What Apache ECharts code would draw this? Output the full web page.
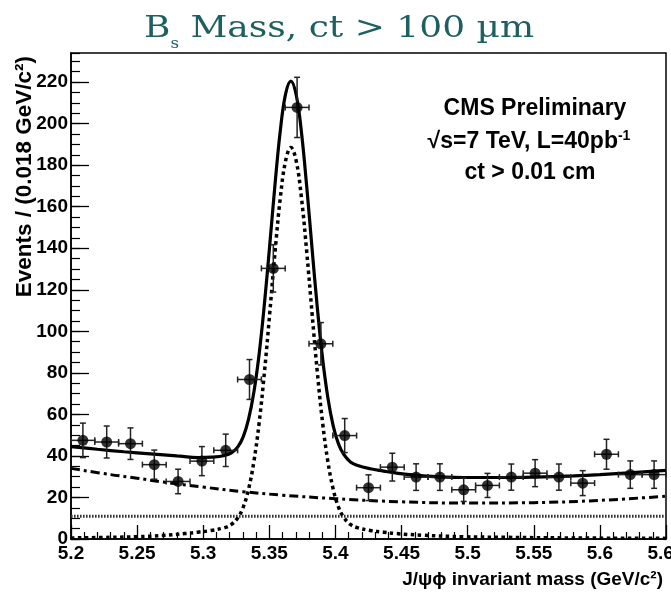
<!DOCTYPE html>
<html>
<head>
<meta charset="utf-8">
<script src="https://cdn.jsdelivr.net/npm/echarts@6/dist/echarts.min.js"></script>
<style>html,body{margin:0;padding:0;background:#fff}#c{width:671px;height:593px}</style>
</head>
<body>
<div id="c"></div>
<script>
// ---- data ----
const binCenters = [5.209, 5.227, 5.245, 5.263, 5.281, 5.299, 5.317, 5.335, 5.353, 5.371, 5.389, 5.407, 5.425,
                    5.443, 5.461, 5.479, 5.497, 5.515, 5.533, 5.551, 5.569, 5.587, 5.605, 5.623, 5.641];
const counts = [47.5, 46.7, 45.9, 35.8, 27.7, 37.5, 42.7, 76.8, 130.3, 207.8, 94, 49.8, 24.7,
                34.6, 29.8, 29.8, 23.7, 25.8, 29.8, 31.7, 29.8, 26.9, 40.8, 31, 31];
const errors = [8.3, 7.7, 7.6, 7.0, 5.9, 7.0, 7.8, 9.6, 11.4, 14.5, 10.2, 8.2, 6.2,
                6.7, 6.4, 6.4, 5.6, 5.8, 6.3, 6.5, 6.3, 6.0, 7.2, 6.6, 6.6];
const binHalfWidth = 0.009;

const totalX = [5.200, 5.220, 5.240, 5.260, 5.280, 5.2963, 5.3063, 5.3163, 5.3213, 5.3263, 5.3303, 5.3343, 5.3383,
                5.3423, 5.3463, 5.3503, 5.3543, 5.3583, 5.3623, 5.3663, 5.3703, 5.3743, 5.3783, 5.3823, 5.3863,
                5.3903, 5.3943, 5.3983, 5.4023, 5.4063, 5.4113, 5.4163, 5.4263, 5.4363, 5.4463, 5.4663, 5.4963,
                5.530, 5.550, 5.580, 5.600, 5.625, 5.650];
const totalY = [44.5, 43.2, 42.0, 41.0, 40.0, 39.2, 39.4, 40.2, 41.4, 44.5, 49.3, 57.7, 70.7,
                89.1, 113.3, 141.5, 170.7, 196.6, 214.3, 220.5, 213.9, 195.8, 169.5, 139.9, 111.3,
                86.8, 67.9, 54.5, 45.8, 40.7, 37.1, 35.5, 33.8, 32.7, 31.7, 30.4, 29.6,
                29.6, 29.8, 30.4, 31.0, 32.0, 33.0];

const signalX = [5.200, 5.230, 5.250, 5.270, 5.286, 5.296, 5.306, 5.3163, 5.3213, 5.3263, 5.3303, 5.3343, 5.3383,
                 5.3423, 5.3463, 5.3503, 5.3543, 5.3583, 5.3623, 5.3663, 5.3703, 5.3743, 5.3783, 5.3823, 5.3863,
                 5.3903, 5.3943, 5.3983, 5.4023, 5.4063, 5.4113, 5.4163, 5.4263, 5.4363, 5.4463, 5.4663, 5.4963,
                 5.530, 5.580, 5.650];
const signalY = [0.5, 0.8, 1.1, 1.7, 2.6, 3.3, 4.1, 5.5, 7.0, 10.4, 15.4, 24.0, 37.2,
                 55.9, 80.3, 108.7, 138.1, 164.2, 182.1, 188.5, 182.1, 164.2, 138.1, 108.7, 80.3,
                 55.9, 37.2, 24.0, 15.4, 10.4, 7.0, 5.5, 4.1, 3.3, 2.6, 1.8, 1.1,
                 0.8, 0.5, 0.3];

const bkgX = [5.20, 5.23, 5.25, 5.27, 5.30, 5.33, 5.36, 5.40, 5.45, 5.50, 5.55, 5.60, 5.65];
const bkgY = [34.0, 31.0, 29.3, 27.4, 25.0, 22.8, 21.1, 19.4, 17.9, 17.3, 17.5, 18.6, 20.6];

const flatX = [5.20, 5.65];
const flatY = [11, 11];

const xMin = 5.2, xMax = 5.65, xStep = 0.05;
const yMin = 0, yMax = 234, yStep = 20, yMinorStep = 5;

// ---- chart ----
const zip = (xs, ys) => xs.map((x, i) => [x, ys[i]]);
const chart = echarts.init(document.getElementById('c'), null, {renderer: 'canvas'});
const axisFont = {color: '#000', fontFamily: 'Liberation Sans', fontWeight: 'bold', fontSize: 19};

const option = {
  animation: false,
  backgroundColor: '#fff',
  grid: {left: 71, right: 5, top: 53, bottom: 54, show: true, borderColor: '#000', borderWidth: 1.5,
         backgroundColor: 'transparent', containLabel: false, outerBoundsMode: 'none'},
  xAxis: {
    type: 'value', min: xMin, max: xMax, interval: xStep,
    axisLine: {show: true, lineStyle: {color: '#000', width: 1.5}},
    axisTick: {show: true, inside: true, length: 14, lineStyle: {color: '#000', width: 1.3}},
    minorTick: {show: true, splitNumber: 5, length: 7, lineStyle: {color: '#000', width: 1.2}},
    axisLabel: Object.assign({margin: 5}, axisFont),
    splitLine: {show: false}, minorSplitLine: {show: false}
  },
  yAxis: [
    {
      type: 'value', min: yMin, max: yMax, interval: yStep, position: 'left',
      axisLine: {show: true, lineStyle: {color: '#000', width: 1.5}},
      axisTick: {show: true, inside: true, length: 18, lineStyle: {color: '#000', width: 1.3}},
      axisLabel: Object.assign({margin: 3, showMaxLabel: false}, axisFont),
      splitLine: {show: false}
    },
    {
      type: 'value', min: yMin, max: yMax, interval: yMinorStep, position: 'left',
      axisLine: {show: false},
      axisTick: {show: true, inside: true, length: 9, lineStyle: {color: '#000', width: 1.2}},
      axisLabel: {show: false},
      splitLine: {show: false}
    }
  ],
  series: [
    {
      name: 'flat', type: 'line', data: zip(flatX, flatY), symbol: 'none', z: 2,
      lineStyle: {color: '#333', width: 3, type: [1.6, 1.4]}
    },
    {
      name: 'background', type: 'line', data: zip(bkgX, bkgY), symbol: 'none', smooth: 0.4, z: 2,
      lineStyle: {color: '#000', width: 3, type: [9, 4, 3, 4]}
    },
    {
      name: 'signal', type: 'line', data: zip(signalX, signalY), symbol: 'none', smooth: 0.4, z: 2,
      lineStyle: {color: '#000', width: 3.5, type: [3.5, 3.5]}
    },
    {
      name: 'total', type: 'line', data: zip(totalX, totalY), symbol: 'none', smooth: 0.4, z: 3,
      lineStyle: {color: '#000', width: 3.2}
    },
    {
      name: 'errors', type: 'custom', z: 4,
      data: binCenters.map((x, i) => [x, counts[i], errors[i]]),
      encode: {x: 0, y: 1},
      renderItem: function (params, api) {
        const x = api.value(0), y = api.value(1), e = api.value(2);
        const pL = api.coord([x - binHalfWidth, y]);
        const pR = api.coord([x + binHalfWidth, y]);
        const pT = api.coord([x, y + e]);
        const pB = api.coord([x, y - e]);
        const st = {stroke: '#222', lineWidth: 1.5};
        const c = 3;
        return {type: 'group', children: [
          {type: 'line', shape: {x1: pL[0], y1: pL[1], x2: pR[0], y2: pR[1]}, style: st},
          {type: 'line', shape: {x1: pT[0], y1: pT[1], x2: pB[0], y2: pB[1]}, style: st},
          {type: 'line', shape: {x1: pT[0] - c, y1: pT[1], x2: pT[0] + c, y2: pT[1]}, style: st},
          {type: 'line', shape: {x1: pB[0] - c, y1: pB[1], x2: pB[0] + c, y2: pB[1]}, style: st},
          {type: 'line', shape: {x1: pL[0], y1: pL[1] - c, x2: pL[0], y2: pL[1] + c}, style: st},
          {type: 'line', shape: {x1: pR[0], y1: pR[1] - c, x2: pR[0], y2: pR[1] + c}, style: st}
        ]};
      }
    },
    {
      name: 'data', type: 'scatter', z: 5,
      data: zip(binCenters, counts), symbol: 'circle', symbolSize: 11,
      itemStyle: {color: '#000'}
    }
  ],
  graphic: [
    {
      type: 'text', x: 339, y: 29, scaleX: 1.2, z: 10,
      style: {
        text: '{b|B}{s|s}{b| Mass, ct > 100 µm}',
        align: 'center', verticalAlign: 'middle', textAlign: 'center', textVerticalAlign: 'middle',
        rich: {
          b: {fontSize: 30, fontFamily: 'DejaVu Serif', fill: '#1e6060', lineHeight: 44},
          s: {fontSize: 14, fontFamily: 'DejaVu Serif', fill: '#1e6060', lineHeight: 14, verticalAlign: 'bottom'}
        }
      }
    },
    {
      type: 'text', x: 535, y: 109, z: 10,
      style: {text: 'CMS Preliminary', font: 'bold 23px "Liberation Sans"', fill: '#000',
              align: 'center', verticalAlign: 'middle', textAlign: 'center', textVerticalAlign: 'middle'}
    },
    {
      type: 'text', x: 529, y: 142, z: 10,
      style: {
        text: '{n|√s=7 TeV, L=40pb}{p|-1}',
        align: 'center', verticalAlign: 'middle', textAlign: 'center', textVerticalAlign: 'middle',
        rich: {
          n: {fontSize: 23, fontFamily: 'Liberation Sans', fontWeight: 'bold', fill: '#000', lineHeight: 26},
          p: {fontSize: 14, fontFamily: 'Liberation Sans', fontWeight: 'bold', fill: '#000', lineHeight: 14, verticalAlign: 'top'}
        }
      }
    },
    {
      type: 'text', x: 530, y: 173, z: 10,
      style: {text: 'ct > 0.01 cm', font: 'bold 23px "Liberation Sans"', fill: '#000',
              align: 'center', verticalAlign: 'middle', textAlign: 'center', textVerticalAlign: 'middle'}
    },
    {
      type: 'text', x: 25, y: 56, rotation: Math.PI / 2, z: 10,
      style: {text: 'Events / (0.018 GeV/c²)', font: 'bold 22.5px "Liberation Sans"', fill: '#000',
              align: 'right', verticalAlign: 'middle', textAlign: 'right', textVerticalAlign: 'middle'}
    },
    {
      type: 'text', x: 663, y: 580, z: 10,
      style: {text: 'J/ψϕ invariant mass (GeV/c²)', font: 'bold 19px "Liberation Sans", "DejaVu Sans"', fill: '#000',
              align: 'right', verticalAlign: 'middle', textAlign: 'right', textVerticalAlign: 'middle'}
    }
  ]
};
chart.setOption(option);
</script>
</body>
</html>
